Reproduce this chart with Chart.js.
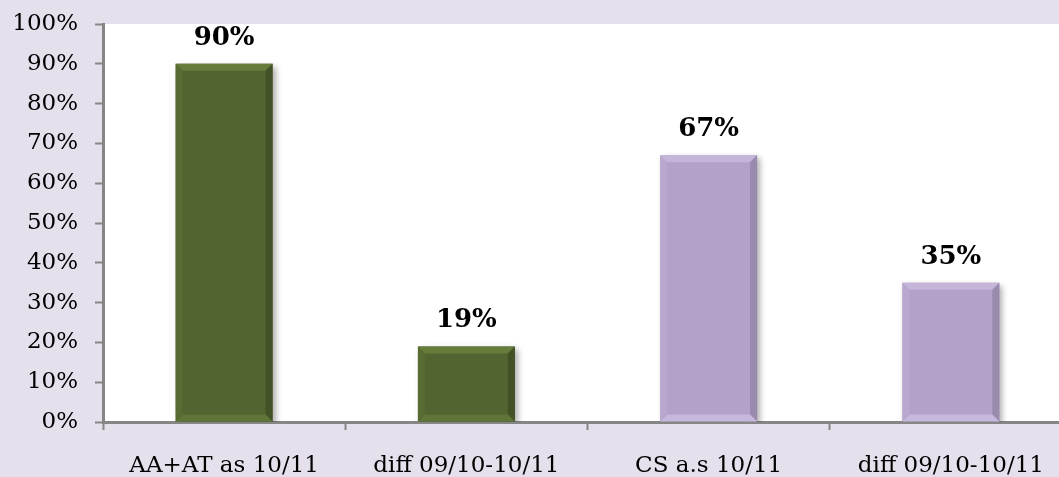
<!DOCTYPE html>
<html>
<head>
<meta charset="utf-8">
<script src="https://cdn.jsdelivr.net/npm/chart.js@4/dist/chart.umd.min.js"></script>
<style>
  html, body { margin: 0; padding: 0; overflow: hidden; background: #e5e0ec; }
  #wrap { width: 1072px; height: 477px; position: relative; }
</style>
</head>
<body>
<div id="wrap"><canvas id="c"></canvas></div>
<script>
// Survey shares per group
const categories = ['AA+AT as 10/11', 'diff 09/10-10/11', 'CS a.s 10/11', 'diff 09/10-10/11'];
const values = [90, 19, 67, 35];
const yTicks = [0, 10, 20, 30, 40, 50, 60, 70, 80, 90, 100];

const FONT = "'DejaVu Serif', serif";
const GREEN = { base: '#526430', top: '#667c3c', right: '#435226', bottom: '#5f7538', left: '#586b33' };
const PURPLE = { base: '#b2a1c8', top: '#c4b5d9', right: '#9a8aae', bottom: '#c6b7dc', left: '#b8a8cd' };
const palettes = [GREEN, GREEN, PURPLE, PURPLE];

// Canvas and plot-area backgrounds
const backdrop = {
  id: 'backdrop',
  beforeDraw(chart) {
    const { ctx, chartArea: a } = chart;
    ctx.save();
    ctx.fillStyle = '#e5e0ec';
    ctx.fillRect(0, 0, chart.width, chart.height);
    ctx.fillStyle = '#ffffff';
    ctx.fillRect(a.left, a.top, a.right - a.left, a.bottom - a.top);
    ctx.restore();
  }
};

// Soft drop shadow under the bars
const barShadow = {
  id: 'barShadow',
  beforeDatasetsDraw(chart) {
    const ctx = chart.ctx;
    ctx.save();
    ctx.shadowColor = 'rgba(0,0,0,0.32)';
    ctx.shadowBlur = 6;
    ctx.shadowOffsetX = 3;
    ctx.shadowOffsetY = 3;
  },
  afterDatasetsDraw(chart) {
    chart.ctx.restore();
  }
};

// Bevelled edges and value labels on each bar
const bevelLabels = {
  id: 'bevelLabels',
  afterDatasetsDraw(chart) {
    const ctx = chart.ctx;
    const meta = chart.getDatasetMeta(0);
    meta.data.forEach((bar, i) => {
      const p = bar.getProps(['x', 'y', 'base', 'width'], true);
      const l = p.x - p.width / 2, r = p.x + p.width / 2;
      const t = p.y, b = p.base;
      const s = Math.min(7, (b - t) / 2);
      const pal = palettes[i];
      const poly = (pts, color) => {
        ctx.beginPath();
        ctx.moveTo(pts[0][0], pts[0][1]);
        for (let k = 1; k < pts.length; k++) ctx.lineTo(pts[k][0], pts[k][1]);
        ctx.closePath();
        ctx.fillStyle = color;
        ctx.fill();
      };
      ctx.save();
      poly([[l, t], [r, t], [r - s, t + s], [l + s, t + s]], pal.top);
      poly([[r, t], [r, b], [r - s, b - s], [r - s, t + s]], pal.right);
      poly([[l, b], [r, b], [r - s, b - s], [l + s, b - s]], pal.bottom);
      poly([[l, t], [l + s, t + s], [l + s, b - s], [l, b]], pal.left);
      ctx.restore();

      ctx.save();
      ctx.font = "bold 26px " + FONT;
      ctx.fillStyle = '#000000';
      ctx.textAlign = 'center';
      ctx.textBaseline = 'alphabetic';
      ctx.fillText(values[i] + '%', p.x, t - 19);
      ctx.restore();
    });
  }
};

new Chart(document.getElementById('c'), {
  type: 'bar',
  data: {
    labels: categories,
    datasets: [{
      data: values,
      backgroundColor: palettes.map(p => p.base),
      borderWidth: 0,
      categoryPercentage: 1.0,
      barPercentage: 0.4
    }]
  },
  options: {
    responsive: true,
    maintainAspectRatio: false,
    animation: false,
    devicePixelRatio: 1,
    layout: { padding: { top: 24, left: 0, right: 0, bottom: 0 } },
    plugins: { legend: { display: false }, tooltip: { enabled: false } },
    scales: {
      x: {
        grid: {
          offset: true,
          drawOnChartArea: false,
          drawTicks: true,
          tickLength: 8,
          tickWidth: 2,
          tickColor: '#868686'
        },
        border: { display: true, color: '#868686', width: 3 },
        ticks: {
          color: '#000000',
          font: { family: FONT, size: 23 },
          padding: 22,
          maxRotation: 0,
          autoSkip: false
        },
        afterFit(scale) { scale.height = 55; scale.paddingLeft = 0; scale.paddingRight = 0; }
      },
      y: {
        min: 0,
        max: 100,
        afterBuildTicks(scale) { scale.ticks = yTicks.map(v => ({ value: v })); },
        grid: {
          drawOnChartArea: false,
          drawTicks: true,
          tickLength: 8,
          tickWidth: 2,
          tickColor: '#868686'
        },
        border: { display: true, color: '#868686', width: 3 },
        ticks: {
          color: '#000000',
          font: { family: FONT, size: 23 },
          padding: 17,
          callback: v => v + '%'
        },
        afterFit(scale) { scale.width = 103; scale.paddingTop = 0; scale.paddingBottom = 0; }
      }
    }
  },
  plugins: [backdrop, barShadow, bevelLabels]
});
</script>
</body>
</html>
